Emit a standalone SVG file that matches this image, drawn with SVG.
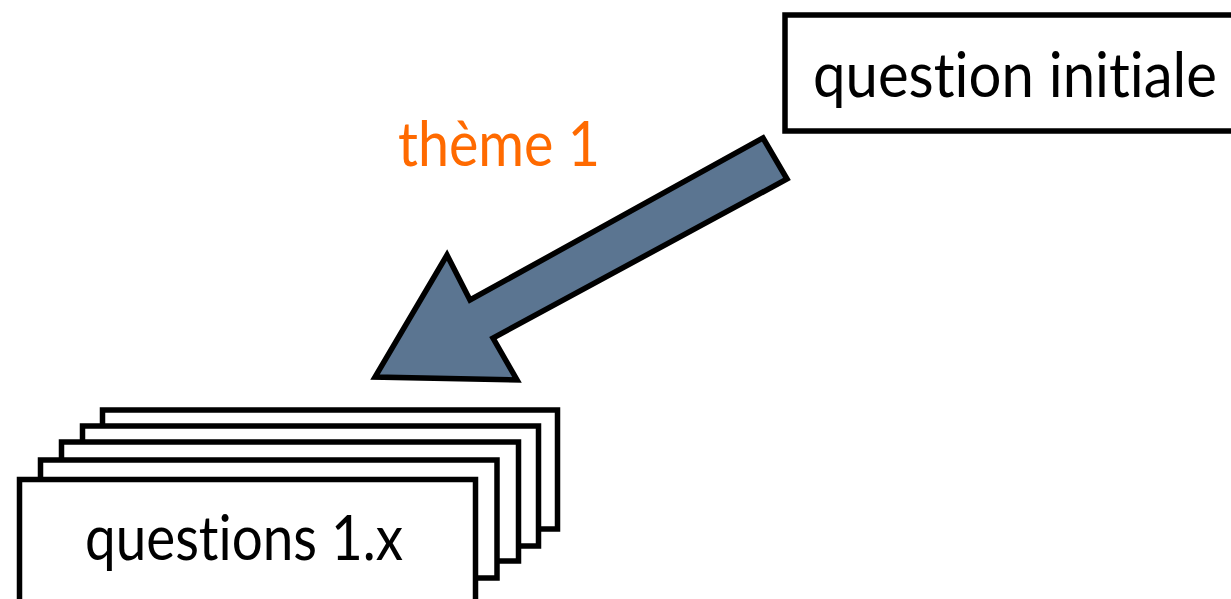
<svg xmlns="http://www.w3.org/2000/svg" width="1231" height="599" viewBox="0 0 1231 599">
  <style>
    .box { fill: #ffffff; stroke: #000000; stroke-width: 5.5; }
    .lbl { font-family: Lato, "Open Sans", "Liberation Sans", sans-serif; font-size: 61px; fill: #000000; font-variant-ligatures: none; font-feature-settings: "liga" 0; }
    .theme { font-family: Lato, "Open Sans", "Liberation Sans", sans-serif; font-size: 61px; fill: #ff6a00; font-variant-ligatures: none; }
    .arrow { fill: #5b7591; stroke: #000000; stroke-width: 5.5; stroke-linejoin: miter; }
  </style>
  <rect x="0" y="0" width="1231" height="599" fill="#ffffff"/>
  <g id="question-initiale">
    <rect class="box" x="785" y="15" width="456" height="116"/>
    <text class="lbl" x="813" y="97" textLength="404" lengthAdjust="spacingAndGlyphs">question initiale</text>
  </g>
  <g id="questions-1x">
    <rect class="box" x="102.5" y="410" width="455" height="119"/>
    <rect class="box" x="82.5" y="426" width="456" height="120"/>
    <rect class="box" x="61.5" y="442" width="457" height="119"/>
    <rect class="box" x="40.5" y="460" width="456.5" height="118"/>
    <rect class="box" x="19.5" y="479.5" width="456" height="124"/>
    <text class="lbl" x="85" y="560" textLength="318" lengthAdjust="spacingAndGlyphs">questions 1.x</text>
  </g>
  <g id="connectors">
    <polygon class="arrow" points="763,138 787,179 493,338 517,380 375,377 447,255 470,300"/>
    <text class="theme" x="398" y="166" textLength="202" lengthAdjust="spacingAndGlyphs">thème 1</text>
  </g>
</svg>
